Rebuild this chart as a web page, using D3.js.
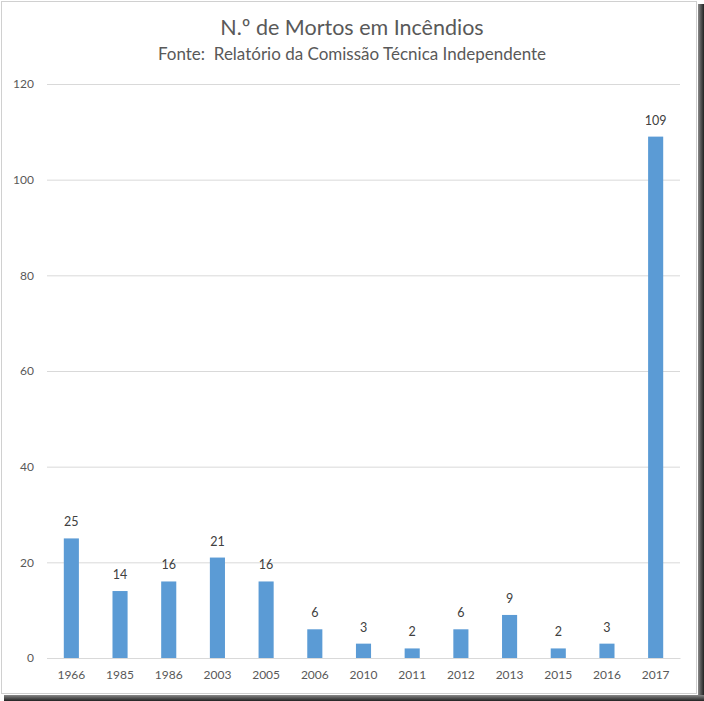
<!DOCTYPE html>
<html><head><meta charset="utf-8">
<script src="https://cdn.jsdelivr.net/npm/d3@7"></script>
<style>body{margin:0;background:#fff;} svg{display:block;font-family:Lato,"Open Sans",sans-serif;}</style>
</head><body>
<svg id="c" width="704" height="701"></svg>
<script>
const years = ["1966","1985","1986","2003","2005","2006","2010","2011","2012","2013","2015","2016","2017"];
const deaths = [25,14,16,21,16,6,3,2,6,9,2,3,109];
const yTicks = [0,20,40,60,80,100,120];
const title = "N.º de Mortos em Incêndios";
const subtitle = "Fonte:  Relatório da Comissão Técnica Independente";

const svg = d3.select("#c");
// frame + shadow
const defs = svg.append("defs");
const gr = defs.append("linearGradient").attr("id","gr").attr("x1",0).attr("x2",1).attr("y1",0).attr("y2",0);
gr.append("stop").attr("offset","0%").attr("stop-color","#888");
gr.append("stop").attr("offset","100%").attr("stop-color","#222");
const gb = defs.append("linearGradient").attr("id","gb").attr("x1",0).attr("x2",0).attr("y1",0).attr("y2",1);
gb.append("stop").attr("offset","0%").attr("stop-color","#888");
gb.append("stop").attr("offset","100%").attr("stop-color","#222");
svg.append("rect").attr("x",698).attr("y",4).attr("width",6).attr("height",697).attr("fill","url(#gr)");
svg.append("rect").attr("x",4).attr("y",695).attr("width",700).attr("height",6).attr("fill","url(#gb)");
svg.append("rect").attr("x",1.5).attr("y",1.5).attr("width",695).attr("height",692).attr("fill","#fff").attr("stroke","#d0d0d0");

const x = d3.scaleBand().domain(years).range([47,680]).paddingInner(0.69).paddingOuter(0.345);
const y = d3.scaleLinear().domain([0,120]).range([658,84]);

svg.append("text").attr("x",352).attr("y",35).attr("text-anchor","middle").attr("font-size",21.5).attr("fill","#595959").text(title);
svg.append("text").attr("x",352).attr("y",60).attr("text-anchor","middle").attr("font-size",17).attr("fill","#595959")
  .style("white-space","pre").text(subtitle);

const gy = svg.append("g").attr("transform","translate(47,0)")
  .call(d3.axisLeft(y).tickValues(yTicks).tickSize(-633).tickPadding(13));
gy.select(".domain").remove();
gy.selectAll("line").attr("stroke","#d9d9d9");
gy.selectAll("text").attr("font-size",12).attr("fill","#595959").attr("font-family","Lato,'Open Sans',sans-serif");

const gx = svg.append("g").attr("transform","translate(0,658)")
  .call(d3.axisBottom(x).tickSize(0).tickPadding(12));
gx.select(".domain").attr("stroke","#d9d9d9");
gx.selectAll("text").attr("font-size",12).attr("fill","#595959").attr("font-family","Lato,'Open Sans',sans-serif");

svg.selectAll("rect.bar").data(years).join("rect").attr("class","bar")
  .attr("x",d=>x(d)).attr("width",x.bandwidth())
  .attr("y",(d,i)=>y(deaths[i])).attr("height",(d,i)=>658-y(deaths[i]))
  .attr("fill","#5b9bd5");
svg.selectAll("text.lab").data(years).join("text").attr("class","lab")
  .attr("x",d=>x(d)+x.bandwidth()/2).attr("y",(d,i)=>y(deaths[i])-12)
  .attr("text-anchor","middle").attr("font-size",12.5).attr("fill","#404040")
  .text((d,i)=>deaths[i]);
</script>
</body></html>
